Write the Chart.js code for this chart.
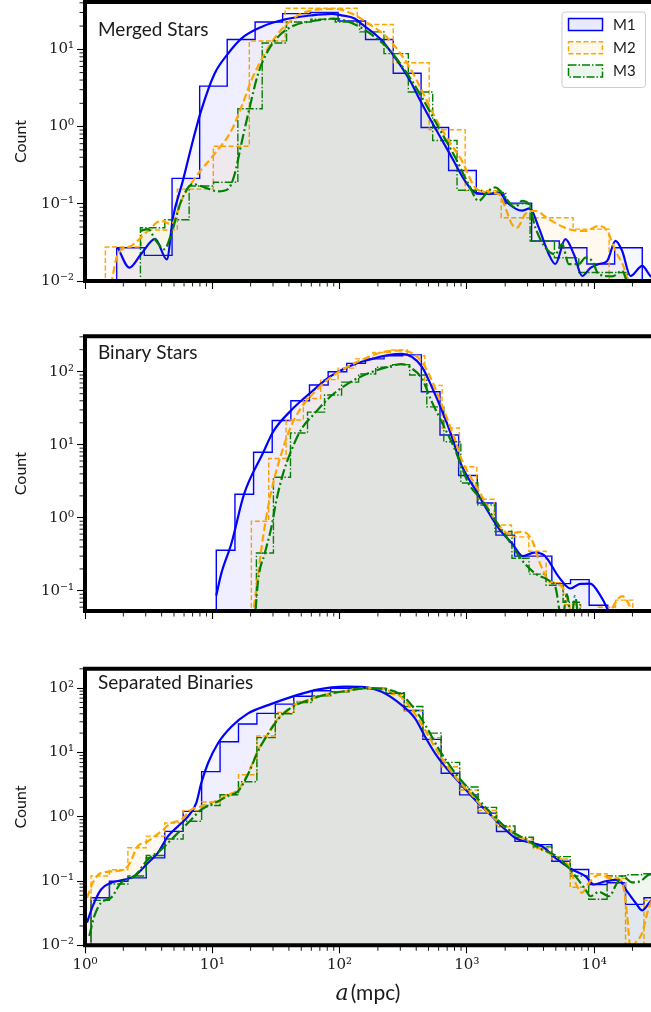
<!DOCTYPE html>
<html><head><meta charset="utf-8">
<script src="https://cdn.jsdelivr.net/npm/chart.js"></script>
<style>
html,body{margin:0;padding:0;background:#fff;overflow:hidden}
body{width:651px;height:1012px;position:relative}
canvas{position:absolute;left:0;display:block}
</style></head><body>
<canvas id="c1" width="653" height="300" style="top:0px;width:653px;height:300px"></canvas>
<canvas id="c2" width="653" height="300" style="top:320px;width:653px;height:300px"></canvas>
<canvas id="c3" width="653" height="372" style="top:640px;width:653px;height:372px"></canvas>
<script>
// ---------------- DATA ----------------
const seriesNames = ['M1', 'M2', 'M3'];
const panelTitles = ['Merged Stars', 'Binary Stars', 'Separated Binaries'];
const yLabel = 'Count';
const xLabelItalic = 'a', xLabelRest = '(mpc)';

const X_MIN = 1, X_MAX = 29000;
const xTicks = [1, 10, 100, 1000, 10000];
const xTickLabels = ['10⁰', '10¹', '10²', '10³', '10⁴'];

const yRangeMerged = [0.01, 41];
const yTicksMerged = [0.01, 0.1, 1, 10];
const yTickLabelsMerged = ['10⁻²', '10⁻¹', '10⁰', '10¹'];
const yRangeBinary = [0.0532, 305];
const yTicksBinary = [0.1, 1, 10, 100];
const yTickLabelsBinary = ['10⁻¹', '10⁰', '10¹', '10²'];
const yRangeSep = [0.01, 201];
const yTicksSep = [0.01, 0.1, 1, 10, 100];
const yTickLabelsSep = ['10⁻²', '10⁻¹', '10⁰', '10¹', '10²'];

// ---- Merged Stars: histograms (bin edges in mpc, counts) ----
const mergedM1Edges = [1.774, 2.924, 4.83, 7.96, 13.1, 21.7, 35.7, 58.9, 97.3, 160, 264, 437, 719, 1186, 1959, 3228, 5321, 8770, 14490, 23880];
const mergedM1Counts = [0.027, 0.0215, 0.213, 3.34, 13.4, 22.6, 29, 30, 23.3, 13.4, 4.9, 0.97, 0.27, 0.134, 0.102, 0.033, 0.027, 0.0166, 0.027];
const mergedM2Edges = [1.445, 2.773, 5.31, 10.19, 19.54, 37.4, 71.8, 137.7, 264, 506, 970, 1862, 3565, 6839, 13120];
const mergedM2Counts = [0.0275, 0.0457, 0.155, 0.556, 12.8, 34, 34, 21, 6.7, 0.91, 0.148, 0.066, 0.066, 0.047];
const mergedM3Edges = [2.725, 4.236, 6.58, 10.22, 15.88, 24.67, 38.33, 59.55, 92.5, 143.7, 223.3, 346.9, 538.9, 837.3, 1301, 2021, 3140, 4878, 7577, 11770, 18290];
const mergedM3Counts = [0.049, 0.062, 0.17, 0.19, 1.70, 12.1, 22.6, 24.5, 22.6, 16.8, 8.8, 2.8, 0.66, 0.15, 0.14, 0.10, 0.033, 0.020, 0.0129, 0.0129];
// ---- Merged Stars: smooth density curves ----
const mergedM1KdeX = [1.807, 2.234, 2.761, 3.556, 4.395, 4.909, 5.875, 7.047, 8.185, 10.42, 13.30, 16.90, 24.32, 36.90, 60.26, 86.50, 103.7, 131.2, 148.9, 188.8, 214.3, 271.0, 307.6, 369.0, 416.9, 559.8, 762.1, 963.8, 1156, 1483, 1778, 2128, 2710, 3133, 3673, 4395, 4955, 5943, 6918, 8054, 9354, 10890, 12650, 14720, 16600, 19320, 23880, 27730, 31620];
const mergedM1KdeY = [0.0271, 0.0149, 0.0224, 0.0351, 0.0191, 0.0661, 0.1995, 0.661, 1.622, 4.83, 8.79, 13.77, 19.50, 24.32, 27.54, 28.84, 27.54, 25.12, 21.38, 15.85, 13.09, 7.94, 5.89, 3.59, 2.40, 0.977, 0.398, 0.1995, 0.140, 0.134, 0.140, 0.100, 0.0813, 0.0871, 0.0490, 0.0224, 0.0166, 0.0348, 0.0224, 0.0116, 0.0148, 0.0166, 0.0182, 0.0331, 0.0245, 0.0116, 0.0157, 0.0116, 0.0107];
const mergedM2KdeX = [1.603, 1.807, 2.301, 3.119, 3.963, 4.753, 5.875, 7.709, 10.42, 14.13, 16.90, 20.28, 25.82, 32.89, 44.46, 56.23, 72.44, 91.41, 124.2, 168.3, 241.5, 347.5, 442.6, 562.3, 717.8, 914.1, 1161, 1483, 1778, 2004, 2259, 2477, 2877, 3451, 4395, 6324, 8531, 10890, 12650, 14720, 17140, 18750];
const mergedM2KdeY = [0.009, 0.0222, 0.0285, 0.0447, 0.0603, 0.0545, 0.121, 0.243, 0.442, 0.887, 1.78, 3.95, 8.79, 16.0, 26, 31, 33, 33.5, 29, 21.6, 13.7, 6.2, 2.94, 1.32, 0.661, 0.361, 0.163, 0.140, 0.134, 0.0895, 0.0545, 0.0492, 0.0735, 0.0811, 0.0632, 0.0469, 0.0446, 0.0518, 0.0446, 0.0245, 0.0149, 0.009];
const mergedM3KdeX = [2.723, 3.119, 3.622, 4.207, 4.753, 5.702, 7.047, 8.690, 11.09, 13.30, 15.00, 16.90, 19.68, 22.91, 27.48, 34.91, 44.46, 67.92, 89.13, 132.1, 178.6, 241.5, 326.6, 442.6, 598.4, 809.1, 1030, 1236, 1483, 1671, 2004, 2399, 2710, 3062, 3451, 4140, 4955, 5598, 6324, 7586, 8531, 9638, 10890, 13870, 16600, 18200];
const mergedM3KdeY = [0.0446, 0.0469, 0.0330, 0.0258, 0.0404, 0.109, 0.180, 0.163, 0.145, 0.155, 0.243, 0.596, 1.78, 4.83, 9.70, 16.0, 20.5, 23.8, 25, 21, 15.5, 10.2, 5.33, 2.40, 0.98, 0.40, 0.180, 0.109, 0.148, 0.163, 0.121, 0.0895, 0.109, 0.099, 0.0492, 0.0271, 0.0222, 0.030, 0.0165, 0.0165, 0.0201, 0.0182, 0.0122, 0.0115, 0.0135, 0.0095];

// ---- Binary Stars ----
const binaryM1Edges = [10.75, 15.07, 21.11, 29.57, 41.43, 58.04, 81.33, 113.9, 159.6, 223.7, 313.4, 439.0, 615.2, 861.8, 1208, 1692, 2371, 3321, 4653, 6521, 9134, 12800];
const binaryM1Counts = [0.361, 2.11, 7.9, 21.5, 40, 65.8, 100, 130, 150, 165, 170, 53.2, 13.6, 3.8, 1.60, 0.58, 0.30, 0.30, 0.126, 0.143, 0.0637];
const binaryM2Edges = [20.28, 27.76, 37.97, 51.95, 71.12, 97.32, 133.2, 182.2, 249.4, 341.3, 467.0, 639.1, 874.5, 1197, 1638, 2241, 3067, 4196, 5742, 7859, 10750, 14720, 20140];
const binaryM2Counts = [0.9, 6.5, 21.8, 43, 78, 112, 150, 183, 198, 165, 65, 17, 5, 1.8, 0.8, 0.55, 0.35, 0.13, 0.065, 0, 0.06, 0.075];
const binaryM3Edges = [22.21, 30.22, 41.14, 55.98, 76.19, 103.7, 141.1, 192.1, 261.4, 355.7, 484.2, 658.9, 897.0, 1221, 1662, 2261, 3078, 4188, 5700, 7759];
const binaryM3Counts = [0.33, 3.6, 14.5, 28, 48, 72, 93, 115, 125, 90, 33, 11, 3.0, 1.5, 0.65, 0.28, 0.17, 0.12, 0.07];
const binaryM1KdeX = [10.75, 11.78, 14.13, 17.77, 25.07, 30.06, 41.88, 60.26, 83.95, 117.1, 168.3, 241.8, 307.6, 369.0, 442.6, 529.7, 635.3, 762.1, 885.1, 1199, 1778, 2259, 2761, 3373, 4036, 5272, 6501, 7762, 9311, 11140, 12420, 13370];
const binaryM1KdeY = [0.087, 0.174, 0.447, 2.11, 7.76, 15.1, 29.9, 53.2, 85.5, 117, 145, 169, 175, 160, 117, 62.4, 29.9, 12.9, 5.8, 2.25, 0.72, 0.45, 0.30, 0.335, 0.31, 0.156, 0.108, 0.125, 0.126, 0.088, 0.062, 0.045];
const binaryM2KdeX = [20.28, 22.91, 25.07, 27.46, 30.95, 34.94, 39.45, 44.46, 51.76, 63.90, 83.87, 103.7, 158.1, 227.4, 307.6, 391.7, 469.9, 562.9, 674.5, 809.1, 914.1, 1236, 1671, 2128, 2710, 3251, 3673, 4395, 5598, 6324, 7079, 11560, 14350, 16600, 19190, 22180];
const binaryM2KdeY = [0.03, 0.173, 0.55, 1.42, 3.65, 7.62, 14.3, 23.0, 35.0, 53.2, 82, 105, 152, 188, 194, 169, 117, 59.3, 26.9, 11.6, 6.17, 2.39, 0.93, 0.61, 0.645, 0.496, 0.263, 0.14, 0.114, 0.067, 0.03, 0.03, 0.065, 0.085, 0.06, 0.03];
const binaryM3KdeX = [21.30, 22.91, 25.82, 29.15, 31.92, 36.04, 41.88, 50.22, 63.90, 83.87, 117.1, 168.3, 241.8, 307.6, 369.0, 442.6, 529.7, 635.3, 809.1, 1031, 1312, 1671, 2128, 2710, 3451, 4395, 4955, 5598, 6124, 6592, 7079, 7621];
const binaryM3KdeY = [0.03, 0.14, 0.325, 0.75, 1.75, 4.06, 8.45, 16.5, 27, 45, 69.3, 95, 117, 127, 111, 81, 39, 20.5, 8.5, 2.96, 1.75, 0.93, 0.496, 0.263, 0.173, 0.14, 0.114, 0.04, 0.09, 0.04, 0.085, 0.03];

// ---- Separated Binaries ----
const sepEdges = [1.115, 1.556, 2.172, 3.031, 4.231, 5.904, 8.244, 11.51, 16.06, 22.41, 31.28, 43.66, 60.94, 85.05, 118.7, 165.7, 231.3, 322.8, 450.5, 628.8, 877.8, 1225, 1710, 2387, 3332, 4650, 6491, 9058, 12640, 17650, 24630, 34380];
const sepM1Counts = [0.0548, 0.0993, 0.112, 0.229, 0.592, 1.21, 5.04, 14.7, 27.7, 40.6, 56.5, 75, 91, 100, 100, 98, 83, 45, 16, 4.75, 2.19, 1.14, 0.59, 0.414, 0.368, 0.203, 0.151, 0.0883, 0.0938, 0.0433, 0.055];
const sepM2Counts = [0.12, 0.15, 0.33, 0.5, 0.8, 1.25, 1.7, 2.2, 4.5, 18, 42, 62, 76, 88, 98, 98, 80, 45, 17, 6, 2.6, 1.25, 0.7, 0.45, 0.32, 0.22, 0.08, 0.13, 0.11, 0, 0.05];
const sepM3Counts = [0.05, 0.09, 0.12, 0.25, 0.45, 0.85, 1.5, 2.2, 3.5, 17, 40, 60, 76, 88, 98, 100, 85, 52, 20, 7, 2.9, 1.4, 0.72, 0.48, 0.34, 0.24, 0.12, 0.052, 0.12, 0.125, 0.13];
const sepM1KdeX = [1.037, 1.150, 1.337, 1.602, 2.039, 2.444, 3.117, 3.736, 4.479, 5.370, 6.437, 7.482, 8.192, 9.250, 11.09, 14.11, 19.10, 27.46, 41.88, 63.90, 86.50, 113.5, 149.0, 214.2, 307.7, 391.6, 469.6, 562.9, 674.6, 860.4, 1095, 1482, 1887, 2401, 3060, 3895, 4959, 6711, 8541, 9945, 12270, 15650, 17640, 21150, 23880, 27610, 31920];
const sepM1KdeY = [0.0225, 0.0407, 0.0738, 0.0937, 0.105, 0.119, 0.191, 0.274, 0.495, 0.708, 1.01, 1.63, 3.33, 6.8, 13.9, 25.1, 40.6, 54.5, 73.3, 93.1, 103, 106, 105, 88, 54.5, 33.9, 17.6, 9.7, 6.03, 3.52, 2.07, 1.14, 0.708, 0.468, 0.40, 0.347, 0.229, 0.151, 0.119, 0.0883, 0.0993, 0.105, 0.075, 0.046, 0.035, 0.048, 0.06];
const sepM2KdeX = [1.037, 1.150, 1.337, 1.701, 2.169, 2.600, 3.117, 3.967, 4.755, 5.700, 6.833, 8.192, 10.43, 13.29, 15.94, 19.10, 22.90, 27.46, 32.91, 41.88, 56.70, 76.61, 110.1, 168.3, 241.8, 307.7, 369.0, 469.6, 598.6, 808.9, 1095, 1482, 2130, 2878, 3895, 4959, 6322, 7127, 8046, 9086, 10890, 13050, 15650, 17140, 18190, 19310, 21150, 23880, 26150, 28630, 31920];
const sepM2KdeY = [0.0548, 0.0937, 0.134, 0.142, 0.17, 0.347, 0.414, 0.592, 0.798, 0.897, 1.29, 1.45, 1.73, 2.19, 2.62, 4.75, 10.9, 19.9, 33.9, 51.3, 65.2, 79, 90, 101, 92, 72, 47, 22.3, 9.72, 4.22, 2.19, 1.14, 0.628, 0.44, 0.308, 0.243, 0.17, 0.094, 0.0656, 0.094, 0.125, 0.115, 0.108, 0.074, 0.0284, 0.009, 0.011, 0.0157, 0.032, 0.0516, 0.06];
const sepM3KdeX = [1.081, 1.184, 1.337, 1.602, 1.921, 2.444, 3.117, 3.967, 5.048, 6.437, 8.192, 10.43, 13.29, 15.94, 19.10, 22.90, 27.46, 32.91, 41.88, 56.70, 76.61, 110.1, 168.3, 241.8, 307.7, 369.0, 469.6, 598.6, 808.9, 1095, 1482, 2130, 2878, 3895, 4959, 6322, 7127, 8541, 9352, 10890, 13050, 15170, 16620, 19920, 23150, 26960, 31920];
const sepM3KdeY = [0.014, 0.0284, 0.0459, 0.0548, 0.0937, 0.119, 0.215, 0.308, 0.495, 0.798, 1.29, 1.63, 2.1, 2.5, 4.6, 10.5, 19.5, 33, 50, 65, 79, 90, 100, 95, 78, 54, 27, 11.5, 4.8, 2.4, 1.25, 0.63, 0.45, 0.31, 0.25, 0.16, 0.119, 0.074, 0.058, 0.068, 0.058, 0.094, 0.119, 0.095, 0.1, 0.126, 0.13];

// ---------------- STYLE ----------------
const STY = [
  {color: '#0000ff', histDash: [], kdeDash: [], histFill: 'rgba(0,0,255,0.03)', kdeFill: 'rgba(0,0,255,0.035)', legFill: 'rgba(0,0,255,0.08)'},
  {color: '#ffa500', histDash: [5, 2.5], kdeDash: [7.5, 3.5], histFill: 'rgba(255,165,0,0.03)', kdeFill: 'rgba(255,165,0,0.035)', legFill: 'rgba(255,165,0,0.08)'},
  {color: '#008000', histDash: [8, 2, 1.5, 2], kdeDash: [11, 3, 2, 3], histFill: 'rgba(0,128,0,0.03)', kdeFill: 'rgba(0,128,0,0.035)', legFill: 'rgba(0,128,0,0.08)'}
];
const FLOOR = 1e-4; // zero-count bins drawn down past the axis floor
const TXT = '#1a1a1a';

function stepPoints(edges, counts) {
  const pts = [{x: edges[0], y: FLOOR}];
  counts.forEach((c, i) => pts.push({x: edges[i], y: Math.max(c, FLOOR)}));
  pts.push({x: edges[edges.length - 1], y: Math.max(counts[counts.length - 1], FLOOR)});
  pts.push({x: edges[edges.length - 1], y: FLOOR});
  return pts;
}
function histDS(edges, counts, k) {
  const s = STY[k];
  return {data: stepPoints(edges, counts), stepped: 'before', borderColor: s.color, borderWidth: 1.4,
    borderDash: s.histDash, backgroundColor: s.histFill, fill: 'start', pointRadius: 0, order: 6 - k};
}
function kdeDS(xs, ys, k) {
  const s = STY[k];
  return {data: xs.map((x, i) => ({x: x, y: ys[i]})), borderColor: s.color, borderWidth: 2.2,
    borderDash: s.kdeDash, backgroundColor: s.kdeFill, fill: 'start', pointRadius: 0,
    cubicInterpolationMode: 'monotone', order: 3 - k};
}

function forEachMinor(scale, fn) {
  const lo = Math.floor(Math.log10(scale.min)), hi = Math.ceil(Math.log10(scale.max));
  for (let e = lo; e < hi; e++) for (let m = 2; m < 10; m++) {
    const v = m * Math.pow(10, e);
    if (v > scale.min && v < scale.max) fn(scale.getPixelForValue(v));
  }
}

const deco = {
  id: 'deco',
  afterDraw(chart, args, o) {
    const {ctx, chartArea: a, scales: {x, y}} = chart;
    ctx.save();
    ctx.setLineDash([]);
    // minor ticks
    ctx.beginPath(); ctx.strokeStyle = '#000'; ctx.lineWidth = 0.9;
    forEachMinor(x, p => { ctx.moveTo(p, a.bottom); ctx.lineTo(p, a.bottom + 5.5); });
    forEachMinor(y, p => { ctx.moveTo(a.left, p); ctx.lineTo(a.left - 5.5, p); });
    ctx.stroke();
    // frame
    ctx.beginPath(); ctx.lineWidth = 4; ctx.lineCap = 'butt';
    ctx.moveTo(a.left - 2, a.top); ctx.lineTo(a.right + 4, a.top);
    ctx.moveTo(a.left, a.top); ctx.lineTo(a.left, a.bottom);
    ctx.moveTo(a.left - 2, a.bottom); ctx.lineTo(a.right + 4, a.bottom);
    ctx.stroke();
    // panel title
    ctx.fillStyle = TXT; ctx.textAlign = 'left'; ctx.textBaseline = 'middle';
    ctx.font = '19px Lato';
    ctx.fillText(o.title, 98, o.titleY);
    // y label
    ctx.save();
    ctx.translate(21, (a.top + a.bottom) / 2); ctx.rotate(-Math.PI / 2);
    ctx.textAlign = 'center'; ctx.font = '16px Lato';
    ctx.fillText(yLabel, 0, 0);
    ctx.restore();
    // legend
    if (o.legend) {
      ctx.beginPath();
      ctx.fillStyle = 'rgba(255,255,255,0.8)'; ctx.strokeStyle = '#cccccc'; ctx.lineWidth = 1;
      if (ctx.roundRect) ctx.roundRect(562, 12, 83.5, 75.5, 3); else ctx.rect(562, 12, 83.5, 75.5);
      ctx.fill(); ctx.stroke();
      seriesNames.forEach((nm, i) => {
        const s = STY[i], cy = 24.5 + i * 23.2;
        ctx.fillStyle = s.legFill; ctx.fillRect(568.5, cy - 6, 34, 12);
        ctx.strokeStyle = s.color; ctx.lineWidth = 1.5; ctx.setLineDash(s.histDash);
        ctx.strokeRect(568.5, cy - 6, 34, 12);
        ctx.setLineDash([]);
        ctx.fillStyle = TXT; ctx.font = '15px Lato'; ctx.textAlign = 'left'; ctx.textBaseline = 'middle';
        ctx.fillText(nm, 613, cy + 0.5);
      });
    }
    // x label
    if (o.xlabel) {
      ctx.textBaseline = 'alphabetic'; ctx.fillStyle = TXT;
      ctx.font = 'italic 22px "DejaVu Serif"'; const wa = ctx.measureText(xLabelItalic).width;
      ctx.font = '21px Lato'; const wb = ctx.measureText(xLabelRest).width;
      const x0 = 368 - (wa + wb + 2) / 2;
      ctx.font = 'italic 22px "DejaVu Serif"'; ctx.fillText(xLabelItalic, x0, o.xlabelY);
      ctx.font = '21px Lato'; ctx.fillText(xLabelRest, x0 + wa + 2, o.xlabelY);
    }
    ctx.restore();
  }
};

function makePanel(id, P) {
  const H = P.H;
  const datasets = [
    histDS(P.h[0][0], P.h[0][1], 0), histDS(P.h[1][0], P.h[1][1], 1), histDS(P.h[2][0], P.h[2][1], 2),
    kdeDS(P.k[0][0], P.k[0][1], 0), kdeDS(P.k[1][0], P.k[1][1], 1), kdeDS(P.k[2][0], P.k[2][1], 2)
  ];
  return new Chart(document.getElementById(id), {
    type: 'line',
    data: {datasets},
    plugins: [deco],
    options: {
      responsive: false, animation: false, devicePixelRatio: 1, events: [],
      layout: {padding: {top: P.top, left: 0, right: 0, bottom: 0}},
      plugins: {legend: {display: false}, tooltip: {enabled: false},
        deco: {title: P.title, titleY: P.titleY, legend: P.legend, xlabel: P.xlabel, xlabelY: P.xlabelY}},
      scales: {
        x: {
          type: 'logarithmic', position: 'bottom', min: X_MIN, max: X_MAX, bounds: 'data',
          afterBuildTicks: s => { s.ticks = xTicks.map(v => ({value: v})); },
          afterFit: s => { s.height = H - P.bottom; s.paddingLeft = 0; s.paddingRight = 0; },
          ticks: {display: P.xlabel, autoSkip: false, maxRotation: 0, padding: 3, color: TXT,
            font: {family: 'DejaVu Serif', size: 15}, callback: (v, i) => xTickLabels[i]},
          grid: {display: true, drawOnChartArea: false, drawTicks: true, tickLength: 8, tickWidth: 1.1, tickColor: '#000'},
          border: {display: false}
        },
        y: {
          type: 'logarithmic', position: 'left', min: P.yr[0], max: P.yr[1], bounds: 'data',
          afterBuildTicks: s => { s.ticks = P.yt.map(v => ({value: v})); },
          afterFit: s => { s.width = 85; s.paddingTop = 0; s.paddingBottom = 0; },
          ticks: {autoSkip: false, padding: 3, color: TXT, font: {family: 'DejaVu Serif', size: 15},
            callback: (v, i) => P.yl[i]},
          grid: {display: true, drawOnChartArea: false, drawTicks: true, tickLength: 8, tickWidth: 1.1, tickColor: '#000'},
          border: {display: false}
        }
      }
    }
  });
}

makePanel('c1', {H: 300, top: 2, bottom: 281, yr: yRangeMerged, yt: yTicksMerged, yl: yTickLabelsMerged,
  title: panelTitles[0], titleY: 29.5, legend: true, xlabel: false,
  h: [[mergedM1Edges, mergedM1Counts], [mergedM2Edges, mergedM2Counts], [mergedM3Edges, mergedM3Counts]],
  k: [[mergedM1KdeX, mergedM1KdeY], [mergedM2KdeX, mergedM2KdeY], [mergedM3KdeX, mergedM3KdeY]]});
makePanel('c2', {H: 300, top: 16.3, bottom: 291, yr: yRangeBinary, yt: yTicksBinary, yl: yTickLabelsBinary,
  title: panelTitles[1], titleY: 32.5, legend: false, xlabel: false,
  h: [[binaryM1Edges, binaryM1Counts], [binaryM2Edges, binaryM2Counts], [binaryM3Edges, binaryM3Counts]],
  k: [[binaryM1KdeX, binaryM1KdeY], [binaryM2KdeX, binaryM2KdeY], [binaryM3KdeX, binaryM3KdeY]]});
makePanel('c3', {H: 372, top: 28.7, bottom: 305.3, yr: yRangeSep, yt: yTicksSep, yl: yTickLabelsSep,
  title: panelTitles[2], titleY: 43.3, legend: false, xlabel: true, xlabelY: 360,
  h: [[sepEdges, sepM1Counts], [sepEdges, sepM2Counts], [sepEdges, sepM3Counts]],
  k: [[sepM1KdeX, sepM1KdeY], [sepM2KdeX, sepM2KdeY], [sepM3KdeX, sepM3KdeY]]});
</script>
</body></html>
